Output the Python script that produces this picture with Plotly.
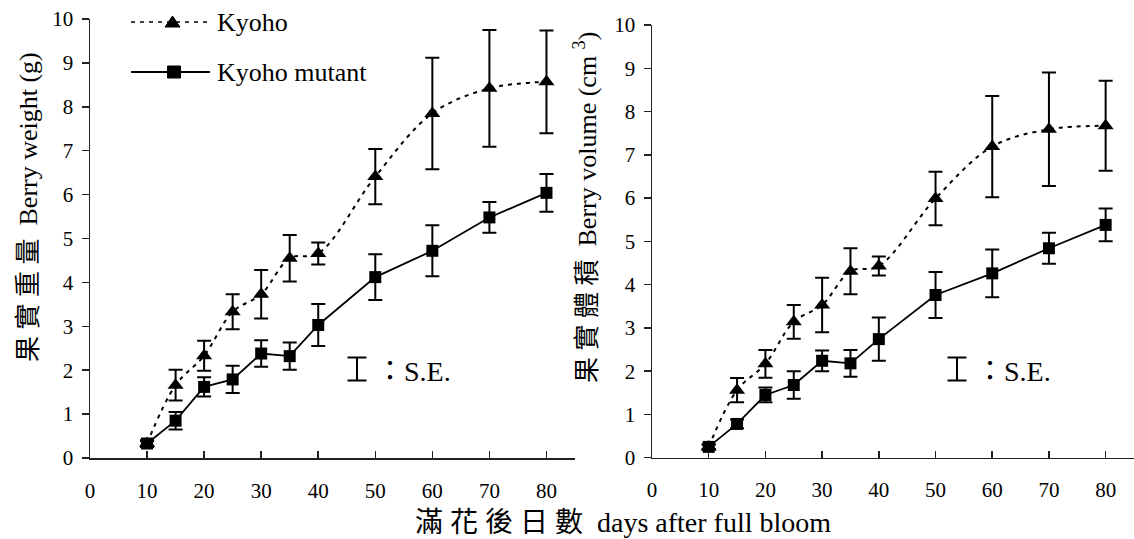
import plotly.graph_objects as go

# ---------------- data ----------------
days = [10, 15, 20, 25, 30, 35, 40, 50, 60, 70, 80]

kyoho_weight = [0.33, 1.66, 2.33, 3.33, 3.73, 4.55, 4.66, 6.41, 7.85, 8.42, 8.57]
kyoho_weight_se = [0.05, 0.35, 0.34, 0.40, 0.55, 0.53, 0.25, 0.63, 1.27, 1.33, 1.17]
mutant_weight = [0.33, 0.85, 1.62, 1.79, 2.38, 2.32, 3.03, 4.12, 4.72, 5.48, 6.04]
mutant_weight_se = [0.08, 0.20, 0.22, 0.31, 0.30, 0.31, 0.48, 0.52, 0.58, 0.35, 0.43]

kyoho_volume = [0.25, 1.56, 2.17, 3.14, 3.53, 4.31, 4.43, 5.99, 7.19, 7.59, 7.67]
kyoho_volume_se = [0.05, 0.28, 0.32, 0.39, 0.63, 0.53, 0.22, 0.62, 1.17, 1.31, 1.04]
mutant_volume = [0.25, 0.78, 1.45, 1.68, 2.24, 2.18, 2.74, 3.76, 4.26, 4.84, 5.38]
mutant_volume_se = [0.06, 0.10, 0.17, 0.32, 0.24, 0.31, 0.50, 0.53, 0.55, 0.36, 0.38]

x_ticks = [0, 10, 20, 30, 40, 50, 60, 70, 80]
y_ticks = [0, 1, 2, 3, 4, 5, 6, 7, 8, 9, 10]

series_names = ["Kyoho", "Kyoho mutant"]
y_title_left = "果\u2005實\u2005重\u2005量  Berry weight (g)"
y_title_right = "果\u2005實\u2005體\u2005積  Berry volume (cm <sup>3</sup>)"
x_title = "滿\u2005花\u2005後\u2005日\u2005數  days after full bloom"
se_label = "：S.E."

# ---------------- layout helpers ----------------
W, H = 1134, 539
FONT = "Liberation Serif, Times New Roman, Noto Sans CJK TC, serif"
INK = "black"
AX = "#222222"
KYOHO_DASH = "4px,5px"


def px(x):
    return x / W


def py(y):
    return 1 - y / H


fig = go.Figure()

panels = [
    ("x", "y", kyoho_weight, kyoho_weight_se, mutant_weight, mutant_weight_se),
    ("x2", "y2", kyoho_volume, kyoho_volume_se, mutant_volume, mutant_volume_se),
]

for xa, ya, k, kse, m, mse in panels:
    fig.add_trace(go.Scatter(
        x=days, y=k, name=series_names[0], mode="lines+markers",
        line=dict(color=INK, width=2, dash=KYOHO_DASH, shape="spline", smoothing=1),
        marker=dict(symbol="triangle-up", size=14, color=INK),
        error_y=dict(type="data", array=kse, visible=True, color=INK, thickness=2, width=7),
        xaxis=xa, yaxis=ya, showlegend=False, cliponaxis=False,
    ))
    fig.add_trace(go.Scatter(
        x=days, y=m, name=series_names[1], mode="lines+markers",
        line=dict(color=INK, width=1.8),
        marker=dict(symbol="square", size=12, color=INK),
        error_y=dict(type="data", array=mse, visible=True, color=INK, thickness=2, width=7),
        xaxis=xa, yaxis=ya, showlegend=False, cliponaxis=False,
    ))

tickfont = dict(family=FONT, size=21, color=INK)
xcommon = dict(range=[0, 85], tickmode="array", tickvals=x_ticks, ticks="inside", ticklen=7,
               tickwidth=1.5, tickcolor=AX, showline=True, linecolor=AX, linewidth=1.5,
               showgrid=False, zeroline=False, tickfont=tickfont, ticklabelstandoff=13,
               automargin=False)
ycommon = dict(range=[0, 10], tickmode="array", tickvals=y_ticks, ticks="outside", ticklen=7,
               tickwidth=1.5, tickcolor=AX, showline=True, linecolor=AX, linewidth=1.5,
               showgrid=False, zeroline=False, tickfont=tickfont, ticklabelstandoff=4,
               automargin=False)

fig.update_layout(
    width=W, height=H, margin=dict(l=0, r=0, t=0, b=0),
    paper_bgcolor="white", plot_bgcolor="white",
    font=dict(family=FONT, color=INK),
    xaxis=dict(domain=[px(90), px(575)], anchor="y", **xcommon),
    yaxis=dict(domain=[py(458), py(19)], anchor="x", **ycommon),
    xaxis2=dict(domain=[px(652), 1.0], anchor="y2", **xcommon),
    yaxis2=dict(domain=[py(457.7), py(25)], anchor="x2", **ycommon),
)

annotations = []
shapes = []

# axis titles
annotations.append(dict(text=y_title_left, x=px(29), y=py(207), xref="paper", yref="paper",
                        textangle=-90, showarrow=False, xanchor="center", yanchor="middle",
                        font=dict(family=FONT, size=26, color=INK)))
annotations.append(dict(text=y_title_right, x=px(585), y=py(208), xref="paper", yref="paper",
                        textangle=-90, showarrow=False, xanchor="center", yanchor="middle",
                        font=dict(family=FONT, size=26, color=INK)))
annotations.append(dict(text=x_title, x=px(623), y=py(522), xref="paper", yref="paper",
                        showarrow=False, xanchor="center", yanchor="middle",
                        font=dict(family=FONT, size=28, color=INK)))

# S.E. keys
for cx, tx in [(357, 374), (957, 974)]:
    top, bot, half = 357.5, 380.5, 9.5
    for (x0, y0, x1, y1) in [(cx, top, cx, bot), (cx - half, top, cx + half, top),
                             (cx - half, bot, cx + half, bot)]:
        shapes.append(dict(type="line", xref="paper", yref="paper",
                           x0=px(x0), y0=py(y0), x1=px(x1), y1=py(y1),
                           line=dict(color=INK, width=2)))
    annotations.append(dict(text=se_label, x=px(tx), y=py(371), xref="paper", yref="paper",
                            showarrow=False, xanchor="left", yanchor="middle",
                            font=dict(family=FONT, size=28, color=INK)))

# manual legend
shapes.append(dict(type="line", xref="paper", yref="paper", x0=px(131), y0=py(22), x1=px(207),
                   y1=py(22), line=dict(color=INK, width=1.5, dash=KYOHO_DASH)))
shapes.append(dict(type="path", xref="paper", yref="paper",
                   path=f"M{px(165)},{py(27)} L{px(180)},{py(27)} L{px(172.5)},{py(16)} Z",
                   fillcolor=INK, line=dict(color=INK, width=1)))
shapes.append(dict(type="line", xref="paper", yref="paper", x0=px(131), y0=py(72), x1=px(210),
                   y1=py(72), line=dict(color=INK, width=1.8)))
shapes.append(dict(type="rect", xref="paper", yref="paper", x0=px(167.5), y0=py(78),
                   x1=px(180.5), y1=py(66), fillcolor=INK, line=dict(color=INK, width=1)))
for name, yy in [(series_names[0], 23), (series_names[1], 72)]:
    annotations.append(dict(text=name, x=px(215), y=py(yy), xref="paper", yref="paper",
                            showarrow=False, xanchor="left", yanchor="middle",
                            font=dict(family=FONT, size=26, color=INK)))

fig.update_layout(annotations=annotations, shapes=shapes)

fig.write_html(
    "out.html",
    config={"displayModeBar": False, "staticPlot": True},
    post_script="document.body.style.margin='0';document.body.style.overflow='hidden';",
)
